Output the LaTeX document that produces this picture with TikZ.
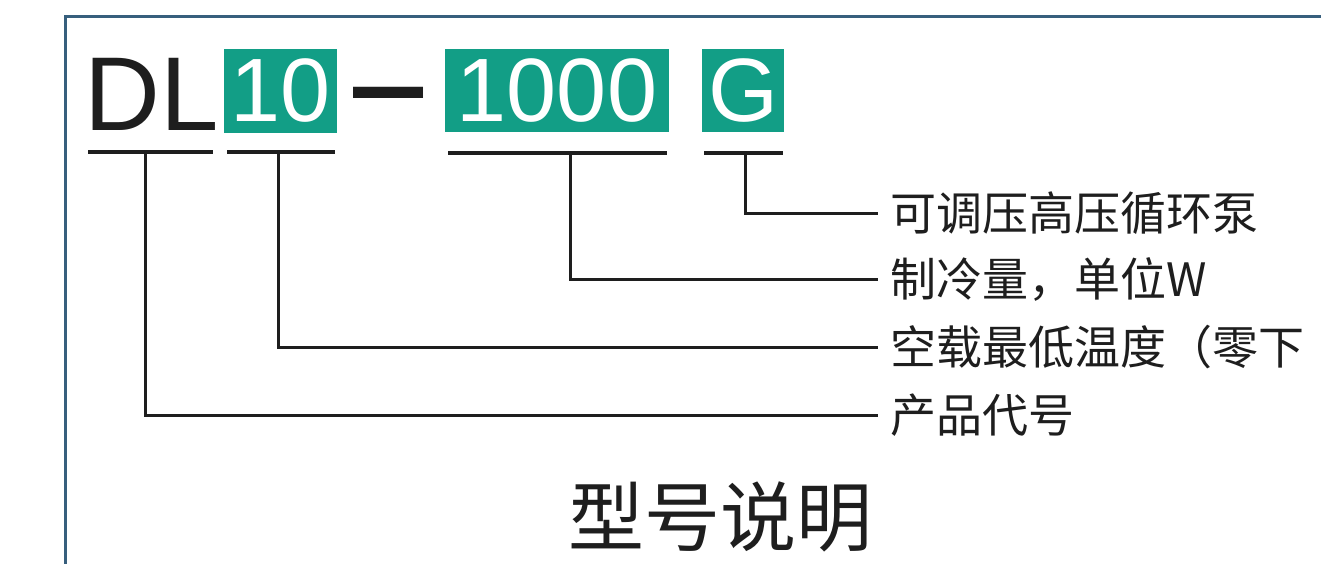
\documentclass[tikz,border=0pt]{standalone}
\usepackage{fontspec}
\setmainfont{Liberation Sans}
\newfontfamily\cjk{Noto Sans CJK SC}
\definecolor{tealbox}{RGB}{18,158,134}
\definecolor{framecol}{RGB}{55,95,125}
\definecolor{ink}{RGB}{30,30,30}
\begin{document}
\begin{tikzpicture}[x=1pt,y=-1pt,
  gbox/.style={fill=tealbox,text=white,inner sep=0pt,font=\fontsize{90}{90}\selectfont},
  uline/.style={line width=3.5pt,draw=ink},
  conn/.style={line width=3pt,draw=ink},
  lab/.style={anchor=west,inner sep=0pt,text=ink,font=\cjk\fontsize{46}{46}\selectfont}]
\useasboundingbox (0,0) rectangle (1321,564);
\fill[white] (0,0) rectangle (1321,564);
\draw[framecol,line width=3pt] (1321,17) -- (65,17) -- (65,564);
% model code
\node[text=ink,font=\fontsize{105}{105}\selectfont,inner sep=0pt] (dl) at (151.5,94.5) {DL};
\node[gbox,minimum width=113pt,minimum height=84pt] (b10) at (280.5,91) {10};
\node[text=ink,font=\fontsize{105}{105}\selectfont,inner sep=0pt,anchor=base] (dash) at (389,136) {\scalebox{1.2}[1.6]{–}};
\node[gbox,minimum width=224pt,minimum height=83pt] (b1000) at (557,90.5) {1000};
\node[gbox,minimum width=82pt,minimum height=83pt] (bg) at (743,90.5) {G};
% underlines
\draw[uline] (88,152) -- (213,152);
\draw[uline] (227,152) -- (335,152);
\draw[uline] (448,153) -- (667,153);
\draw[uline] (704,153) -- (783,153);
\coordinate (u1) at (145,152);
\coordinate (u2) at (278,152);
\coordinate (u3) at (570,153);
\coordinate (u4) at (745,153);
% labels
\node[lab] (l4) at (890,213) {可调压高压循环泵};
\node[lab] (l3) at (890,279) {制冷量，单位W};
\node[lab] (l2) at (890,347) {空载最低温度（零下};
\node[lab] (l1) at (890,415) {产品代号};
% connectors
\draw[conn] (u4) |- ([xshift=-12pt]l4.west);
\draw[conn] (u3) |- ([xshift=-12pt]l3.west);
\draw[conn] (u2) |- ([xshift=-12pt]l2.west);
\draw[conn] (u1) |- ([xshift=-12pt]l1.west);
% title
\node[text=ink,font=\cjk\fontsize{76}{76}\selectfont,inner sep=0pt] (title) at (720,517) {型号说明};
\end{tikzpicture}
\end{document}
